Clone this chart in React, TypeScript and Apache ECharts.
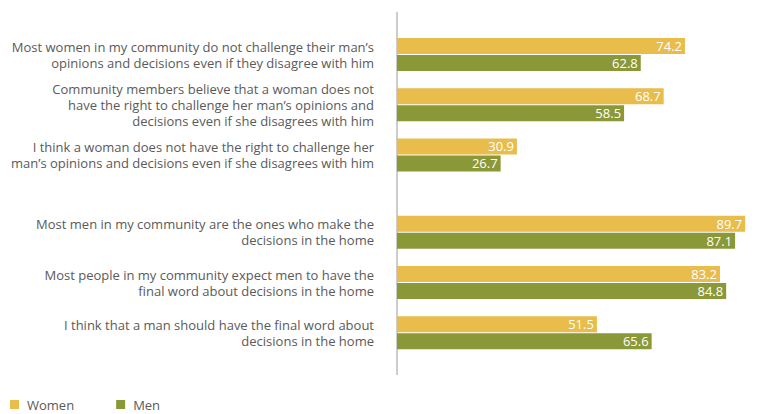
import React, { useEffect, useRef } from "react";
import * as echarts from "echarts";

const categories = [
  "Most women in my community do not challenge their man’s\nopinions and decisions even if they disagree with him",
  "Community members believe that a woman does not\nhave the right to challenge her man’s opinions and\ndecisions even if she disagrees with him",
  "I think a woman does not have the right to challenge her\nman’s opinions and decisions even if she disagrees with him",
  "Most men in my community are the ones who make the\ndecisions in the home",
  "Most people in my community expect men to have the\nfinal word about decisions in the home",
  "I think that a man should have the final word about\ndecisions in the home",
];
const women = [74.2, 68.7, 30.9, 89.7, 83.2, 51.5];
const men = [62.8, 58.5, 26.7, 87.1, 84.8, 65.6];
const seriesNames = ["Women", "Men"];

const WOMEN_COLOR = "#E8BD4B";
const MEN_COLOR = "#8A9838";
const FONT = "Open Sans";

export default function App() {
  const ref = useRef<HTMLDivElement>(null);
  useEffect(() => {
    if (!ref.current) return;
    const chart = echarts.init(ref.current, undefined, { renderer: "svg" });
    const left = 397;
    const right = 19;
    const grids = [
      { left, right, top: 29.5, height: 150.5 },
      { left, right, top: 207, height: 151 },
    ];
    const parts = [
      [0, 3],
      [3, 6],
    ];
    const xAxes = grids.map((_, i) => ({
      type: "value" as const,
      gridIndex: i,
      min: 0,
      max: 93,
      show: false,
    }));
    const yAxes = parts.map(([a, b], i) => ({
      type: "category" as const,
      gridIndex: i,
      inverse: true,
      data: categories.slice(a, b),
      axisLine: { show: false },
      axisTick: { show: false },
      axisLabel: {
        margin: 23,
        color: "#5a5a5a",
        fontFamily: FONT,
        fontSize: 13,
        lineHeight: 16,
        align: "right" as const,
      },
    }));
    const label = {
      show: true,
      position: "insideRight" as const,
      color: "#ffffff",
      fontFamily: FONT,
      fontSize: 13,
      distance: 3,
      formatter: (p: any) => Number(p.value).toFixed(1),
    };
    const series: any[] = [];
    parts.forEach(([a, b], i) => {
      series.push({
        name: seriesNames[0],
        type: "bar",
        xAxisIndex: i,
        yAxisIndex: i,
        data: women.slice(a, b),
        barWidth: 16,
        barGap: "6%",
        itemStyle: { color: WOMEN_COLOR },
        label,
      });
      series.push({
        name: seriesNames[1],
        type: "bar",
        xAxisIndex: i,
        yAxisIndex: i,
        data: men.slice(a, b),
        barWidth: 16,
        barGap: "6%",
        itemStyle: { color: MEN_COLOR },
        label,
      });
    });
    chart.setOption({
      animation: false,
      backgroundColor: "#ffffff",
      grid: grids,
      xAxis: xAxes,
      yAxis: yAxes,
      series,
      legend: {
        data: seriesNames,
        left: 10,
        top: 398,
        padding: 0,
        itemWidth: 9,
        itemHeight: 9,
        itemGap: 42,
        icon: "rect",
        textStyle: {
          color: "#5a5a5a",
          fontFamily: FONT,
          fontSize: 13,
          padding: [0, 0, 0, 3],
        },
      },
      graphic: [
        {
          type: "line",
          shape: { x1: 397, y1: 12, x2: 397, y2: 375 },
          style: { stroke: "#9a9a9a", lineWidth: 1 },
          silent: true,
        },
      ],
    });
    return () => chart.dispose();
  }, []);
  return (
    <div
      ref={ref}
      style={{ position: "fixed", left: 0, top: 0, width: 777, height: 414 }}
    />
  );
}
